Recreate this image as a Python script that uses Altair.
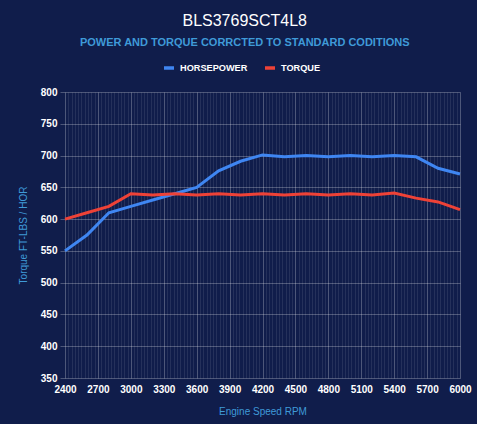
import altair as alt
import pandas as pd

rpm = [2400, 2600, 2800, 3000, 3200, 3400, 3600, 3800, 4000, 4200,
       4400, 4600, 4800, 5000, 5200, 5400, 5600, 5800, 6000]
horsepower = [550, 575, 610, 620, 630, 640, 650, 676, 691, 701,
              698, 700, 698, 700, 698, 700, 698, 680, 671]
torque = [600, 610, 620, 640, 638, 640, 638, 640, 638, 640,
          638, 640, 638, 640, 638, 641, 633, 627, 615]
series = ["HORSEPOWER", "TORQUE"]
colors = ["#3f86f2", "#ee4237"]
x_grid = list(range(2400, 6001, 30))
y_ticks = list(range(350, 801, 50))

rows = []
for r, h, t in zip(rpm, horsepower, torque):
    rows.append({"rpm": r, "value": h, "series": series[0]})
    rows.append({"rpm": r, "value": t, "series": series[1]})
df = pd.DataFrame(rows)

bg = "#101d4b"
font = "Liberation Sans"

chart = alt.Chart(df).mark_line(strokeWidth=3).encode(
    x=alt.X("rpm:Q",
            scale=alt.Scale(domain=[2400, 6000], nice=False, zero=False),
            axis=alt.Axis(values=x_grid,
                          labelExpr="datum.value % 300 === 0 ? datum.label : ''",
                          labelOverlap=False, labelFlush=False,
                          ticks=False, domain=False,
                          gridColor="#ffffff",
                          gridOpacity=alt.condition("datum.value % 300 === 0", alt.value(0.26), alt.value(0.09)),
                          labelColor="#ffffff", labelFontSize=10, labelFont=font,
                          labelFontWeight="bold",
                          labelPadding=6, format="d",
                          title="Engine Speed RPM", titleColor="#3f9ad8",
                          titleFont=font, titleFontSize=10, titleFontWeight="normal",
                          titlePadding=12)),
    y=alt.Y("value:Q",
            scale=alt.Scale(domain=[350, 800], nice=False, zero=False),
            axis=alt.Axis(values=y_ticks, domain=False,
                          gridColor="#ffffff", gridOpacity=0.26,
                          tickColor="#ffffff", tickOpacity=0.26, tickSize=5,
                          labelColor="#ffffff", labelFontSize=10, labelFont=font,
                          labelFontWeight="bold",
                          labelPadding=3,
                          title="Torque FT-LBS / HOR", titleColor="#3f9ad8",
                          titleFont=font, titleFontSize=10, titleFontWeight="normal",
                          titlePadding=12)),
    color=alt.Color("series:N",
                    scale=alt.Scale(domain=series, range=colors),
                    legend=alt.Legend(title=None, orient="none", direction="horizontal",
                                      legendX=97, legendY=-31,
                                      symbolType="stroke", symbolStrokeWidth=3.5,
                                      symbolSize=100, labelColor="#ffffff",
                                      labelFont=font, labelFontSize=9.2,
                                      labelFontWeight="bold",
                                      columnPadding=10, labelOffset=4)),
).properties(
    width=395,
    height=286,
    background=bg,
    padding={"left": 65, "top": 92, "right": 17, "bottom": 46},
    autosize=alt.AutoSizeParams(type="none"),
    title=alt.TitleParams("BLS3769SCT4L8",
                          subtitle="POWER AND TORQUE CORRCTED TO STANDARD CODITIONS",
                          color="#ffffff", font=font, fontSize=16, fontWeight="normal",
                          subtitleColor="#3f9ad8", subtitleFont=font,
                          subtitleFontSize=11, subtitleFontWeight="bold",
                          subtitlePadding=8,
                          anchor="middle", frame="bounds", offset=13),
).configure_view(stroke=None)

chart.save("out.html", embed_options={"renderer": "svg", "actions": False})
